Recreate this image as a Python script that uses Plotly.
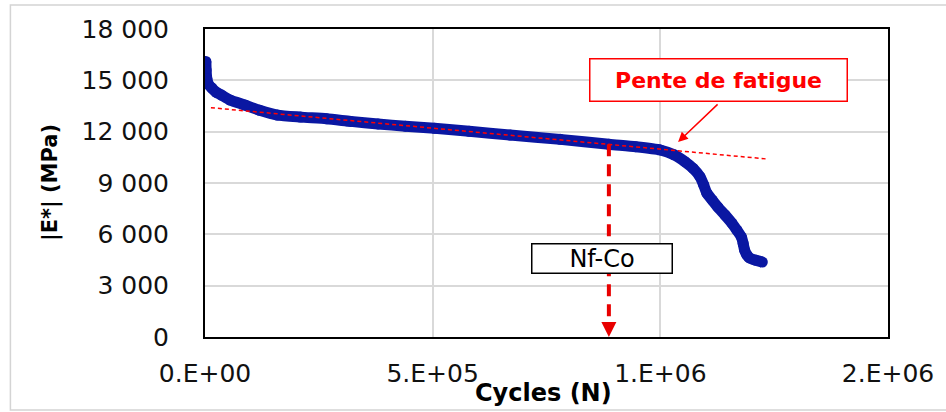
import plotly.graph_objects as go

# ---- data ----
cycles = [2000, 2500, 4000, 8000, 15000, 25000, 36000, 55000, 87000, 120000,
          159000, 210000, 267000, 320000, 380000, 440000, 504000, 580000, 670000,
          780000, 887000, 946000, 1000000, 1030000, 1054000, 1072000, 1087000,
          1095000, 1102000, 1114000, 1126000, 1142000, 1157000, 1168000, 1178000,
          1182000, 1185000, 1190000, 1196000, 1210000, 1224000]
modulus = [16100, 15600, 15100, 14750, 14550, 14300, 14140, 13850, 13560, 13250,
           12970, 12850, 12750, 12600, 12450, 12320, 12200, 12020, 11800,
           11550, 11260, 11120, 10930, 10650, 10245, 9850, 9370,
           8900, 8415, 8000, 7600, 7130, 6660, 6250, 5840,
           5450, 5080, 4800, 4620, 4480, 4380]

trend_cycles = [13000, 1235000]
trend_modulus = [13400, 10400]

nf_cycles = 887000
nf_modulus = 11260

y_ticks = [0, 3000, 6000, 9000, 12000, 15000, 18000]
y_ticktext = ["0", "3 000", "6 000", "9 000", "12 000", "15 000", "18 000"]
x_ticks = [0, 500000, 1000000, 1500000]
x_ticktext = ["0.E+00", "5.E+05", "1.E+06", "2.E+06"]

BLUE = "#0a17a2"
RED = "#ff0000"
FONT = "DejaVu Sans"

fig = go.Figure()

fig.add_trace(go.Scatter(
    x=cycles, y=modulus, mode="lines+markers",
    line=dict(color=BLUE, width=11, shape="spline", smoothing=0.6),
    marker=dict(color=BLUE, size=11),
    hoverinfo="skip", showlegend=False))

fig.add_trace(go.Scatter(
    x=trend_cycles, y=trend_modulus, mode="lines",
    line=dict(color=RED, width=1.5, dash="4px,3px"),
    hoverinfo="skip", showlegend=False))

fig.add_trace(go.Scatter(
    x=[nf_cycles, nf_cycles], y=[nf_modulus, 400], mode="lines",
    line=dict(color="#e80000", width=4, dash="12px,8px"),
    hoverinfo="skip", showlegend=False))

annotations = [
    dict(x=nf_cycles, y=0, xref="x", yref="y", ax=0, ay=-12, text="",
         showarrow=True, arrowhead=2, arrowsize=1, arrowwidth=3, arrowcolor="#e80000"),
    dict(x=871700, y=4617, xref="x", yref="y", text="Nf-Co", showarrow=False,
         font=dict(family=FONT, size=24, color="#000000"),
         bordercolor="#000000", borderwidth=1.5, bgcolor="white",
         borderpad=0, width=139, height=28),
    dict(x=1127000, y=15020, xref="x", yref="y", text="<b>Pente de fatigue</b>",
         showarrow=False, font=dict(family=FONT, size=22, color=RED),
         bordercolor=RED, borderwidth=1.5, bgcolor="white",
         borderpad=0, width=256, height=41),
    dict(x=1039000, y=11400, xref="x", yref="y", ax=41, ay=-39, text="",
         showarrow=True, arrowhead=2, arrowsize=1.3, arrowwidth=1.5, arrowcolor=RED),
    dict(x=0, y=0.5, xref="paper", yref="paper", xshift=-155, text="<b>|E*| (MPa)</b>",
         textangle=-90, showarrow=False, xanchor="center", yanchor="middle",
         font=dict(family=FONT, size=21, color="#000000")),
    dict(x=0.496, y=0, xref="paper", yref="paper", yshift=-56, text="<b>Cycles (N)</b>",
         showarrow=False, xanchor="center", yanchor="middle",
         font=dict(family=FONT, size=24, color="#000000")),
]

fig.update_layout(
    width=946, height=412, autosize=False,
    margin=dict(l=205, r=53, t=29, b=75),
    paper_bgcolor="white", plot_bgcolor="white",
    annotations=annotations,
    shapes=[dict(type="rect", xref="paper", yref="paper",
                 x0=-0.2849, x1=1.09, y0=-0.237, y1=1.078,
                 line=dict(color="#d4d4d4", width=1.5), layer="below")],
    xaxis=dict(range=[0, 1500000], tickvals=x_ticks, ticktext=x_ticktext,
               showgrid=True, gridcolor="#d9d9d9", gridwidth=1.5,
               showline=True, linecolor="#000000", linewidth=2, mirror=True,
               zeroline=False, ticks="", ticklabelstandoff=13,
               tickfont=dict(family=FONT, size=25, color="#111111")),
    yaxis=dict(range=[0, 18000], tickvals=y_ticks, ticktext=y_ticktext,
               showgrid=True, gridcolor="#d9d9d9", gridwidth=1.5,
               showline=True, linecolor="#000000", linewidth=2, mirror=True,
               zeroline=False, ticks="", ticklabelstandoff=29,
               tickfont=dict(family=FONT, size=25, color="#111111")),
)

fig.write_html("out.html")
